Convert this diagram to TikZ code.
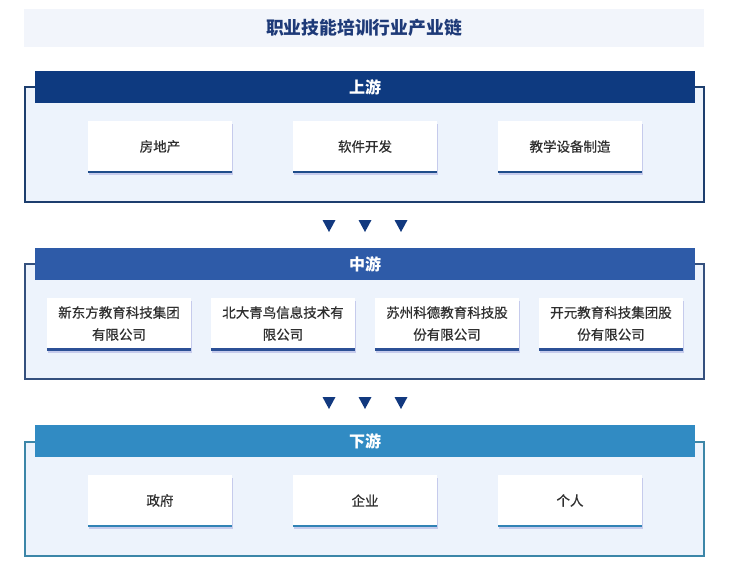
\documentclass[tikz,border=0pt]{standalone}
\usepackage{fontspec}
\setmainfont{Noto Sans CJK SC}
\newfontfamily\cardfont{Noto Sans CJK SC}[FakeBold=0.6]
\usetikzlibrary{shadows}
\definecolor{titlebg}{HTML}{F2F5FB}
\definecolor{titletext}{HTML}{1E3A78}
\definecolor{panelbg}{HTML}{EDF3FC}
\definecolor{uphead}{HTML}{0E3A80}
\definecolor{upline}{HTML}{1D3E6E}
\definecolor{midhead}{HTML}{2E5BA8}
\definecolor{midline}{HTML}{34507E}
\definecolor{downhead}{HTML}{318BC3}
\definecolor{downline}{HTML}{3C86A8}
\definecolor{upcard}{HTML}{1E4C8A}
\definecolor{midcard}{HTML}{2C5096}
\definecolor{downcard}{HTML}{3183B5}
\definecolor{cardtext}{HTML}{2E2E2E}
\definecolor{tricol}{HTML}{12397F}
\begin{document}
\begin{tikzpicture}[x=1pt,y=-1pt,
  titlebar/.style={fill=titlebg, draw=none, inner sep=0pt, minimum width=680pt, minimum height=38pt,
    text=titletext, font=\fontsize{17.8}{20}\selectfont\bfseries},
  panel/.style={fill=panelbg, line width=2pt, inner sep=0pt, minimum width=679pt},
  header/.style={draw=none, inner sep=0pt, minimum width=660pt, minimum height=32pt,
    text=white, font=\fontsize{16}{19}\selectfont\bfseries},
  card/.style={fill=white, draw=none, inner sep=0pt, minimum width=144pt, minimum height=51pt,
    align=center, text=cardtext, font=\cardfont\fontsize{13.5}{22}\selectfont,
    drop shadow={fill=black!40!blue, opacity=0.16, shadow xshift=1pt, shadow yshift=-3pt}},
  cardbar/.style={line width=2.5pt},
  tri/.style={fill=tricol}
]
\useasboundingbox (0,0) rectangle (729,576);

% title
\node[titlebar] (title) at (364,28) {职业技能培训行业产业链};

% upstream
\node[panel, draw=upline, minimum height=115pt] (upbox) at (364.5,144.5) {};
\node[header, fill=uphead] (uph) at (365,87) {上游};
\node[card] (u1) at (160,146.5) {房地产};
\node[card] (u2) at (365,146.5) {软件开发};
\node[card] (u3) at (570,146.5) {教学设备制造};
\foreach \n in {u1,u2,u3}
  \draw[cardbar, upcard] (\n.south west) -- (\n.south east);

% arrows 1
\foreach \x in {329,365,401}
  \fill[tri] (\x-6.5,220) -- (\x+6.5,220) -- (\x,232) -- cycle;

% midstream
\node[panel, draw=midline, minimum height=115pt] (midbox) at (364.5,321.5) {};
\node[header, fill=midhead] (midh) at (365,264) {中游};
\node[card, minimum height=52pt] (m1) at (119,323.5) {新东方教育科技集团\\有限公司};
\node[card, minimum height=52pt] (m2) at (283,323.5) {北大青鸟信息技术有\\限公司};
\node[card, minimum height=52pt] (m3) at (447,323.5) {苏州科德教育科技股\\份有限公司};
\node[card, minimum height=52pt] (m4) at (611,323.5) {开元教育科技集团股\\份有限公司};
\foreach \n in {m1,m2,m3,m4}
  \draw[cardbar, midcard] (\n.south west) -- (\n.south east);

% arrows 2
\foreach \x in {329,365,401}
  \fill[tri] (\x-6.5,397) -- (\x+6.5,397) -- (\x,409) -- cycle;

% downstream
\node[panel, draw=downline, minimum height=114pt] (downbox) at (364.5,499) {};
\node[header, fill=downhead] (downh) at (365,441) {下游};
\node[card] (d1) at (160,500.5) {政府};
\node[card] (d2) at (365,500.5) {企业};
\node[card] (d3) at (570,500.5) {个人};
\foreach \n in {d1,d2,d3}
  \draw[cardbar, downcard] (\n.south west) -- (\n.south east);
\end{tikzpicture}
\end{document}
